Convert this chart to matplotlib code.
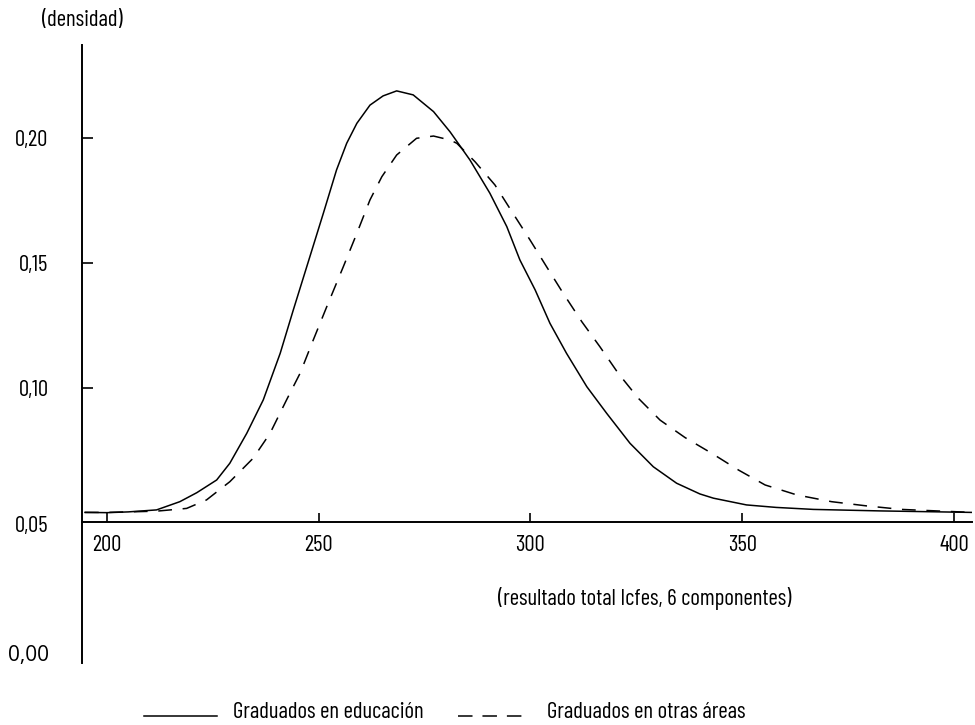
import matplotlib
matplotlib.use("Agg")
import matplotlib.pyplot as plt
from matplotlib import font_manager as fm
from matplotlib.textpath import TextPath
from matplotlib.lines import Line2D

# ---- data ----
x_edu = [194.8, 200, 205, 211.7, 217.2, 221.2, 225.9, 229.0, 233.0, 236.9, 240.9, 244.0,
         247.9, 251.1, 254.2, 256.6, 259.0, 262.1, 265.2, 268.4, 272.3, 277.1, 281.0,
         285.7, 290.4, 294.4, 297.5, 301.1, 304.6, 308.5, 313.3, 318.0, 323.5, 329.0,
         334.5, 340.0, 343.2, 351.0, 358.0, 366.8, 382.5, 404.2]
y_edu = [0.050, 0.0499, 0.0502, 0.051, 0.0543, 0.0579, 0.063, 0.0697, 0.0817, 0.0951,
         0.1138, 0.1312, 0.1525, 0.170, 0.1873, 0.198, 0.206, 0.2133, 0.217, 0.219,
         0.2174, 0.2107, 0.2026, 0.1913, 0.178, 0.1646, 0.1512, 0.1392, 0.1258, 0.1138,
         0.1004, 0.0897, 0.0777, 0.0683, 0.0617, 0.0574, 0.0557, 0.053, 0.052, 0.0512,
         0.0506, 0.050]

x_oth = [194.8, 200, 205, 211.7, 218.8, 223.5, 229.0, 234.5, 238.5, 242.4, 245.6, 248.7,
         251.9, 255.8, 259.0, 262.1, 264.9, 268.4, 273.1, 277.1, 281.0, 282.6, 286.9,
         291.6, 295.6, 299.9, 303.8, 307.7, 312.1, 316.4, 320.7, 325.5, 330.6, 336.5,
         342.8, 349.1, 355.4, 362.9, 371.1, 379.4, 387.6, 395.9, 404.2]
y_oth = [0.050, 0.050, 0.0502, 0.0505, 0.0516, 0.055, 0.0623, 0.0717, 0.0817, 0.0951,
         0.1058, 0.1191, 0.1325, 0.1485, 0.1619, 0.1753, 0.1846, 0.1933, 0.200, 0.2009,
         0.1993, 0.198, 0.1906, 0.1813, 0.1706, 0.1592, 0.1485, 0.1379, 0.1265, 0.1164,
         0.1058, 0.0957, 0.0870, 0.0800, 0.0737, 0.067, 0.061, 0.057, 0.0543, 0.0526,
         0.0512, 0.0506, 0.050]

x_ticks = [200, 250, 300, 350, 400]
x_ticklabels = ["200", "250", "300", "350", "400"]
y_ticks = [0.10, 0.15, 0.20]
y_ticklabels = ["0,10", "0,15", "0,20"]
series_labels = ["Graduados en educación", "Graduados en otras áreas"]
y_label = "(densidad)"
x_label = "(resultado total Icfes, 6 componentes)"

W, H = 975, 725
PX = 100 / 72.0  # pixels per point

# ---- choose a condensed sans whose proportions best match the reference ----
# reference: "Graduados en educación" is ~185 px wide, capitals ~16 px tall
TARGET_W, TARGET_CAP = 185.0, 16.0
cands = []
seen = set()
for e in sorted(fm.fontManager.ttflist, key=lambda f: f.fname):
    if e.fname in seen:
        continue
    if e.style != 'normal' or e.weight not in (400, 'normal', 'regular', 'book'):
        continue
    if any(k in e.name for k in ('Mono', 'Serif', 'CJK', 'Math')):
        continue
    if e.stretch == 'normal' and e.name not in ('Liberation Sans', 'Liberation Sans Narrow'):
        continue
    seen.add(e.fname)
    cands.append(e)

best = None
for e in cands:
    try:
        p = fm.FontProperties(fname=e.fname)
        w1 = TextPath((0, 0), series_labels[0], size=10, prop=p).get_extents().width / 10
        c1 = TextPath((0, 0), "H", size=10, prop=p).get_extents().height / 10
    except Exception:
        continue
    if w1 <= 0 or c1 <= 0:
        continue
    s_w = TARGET_W / (w1 * PX)
    s_c = TARGET_CAP / (c1 * PX)
    score = abs(s_w / s_c - 1)
    if best is None or score < best[0]:
        best = (score, e, s_c)

if best is not None:
    FP = fm.FontProperties(fname=best[1].fname)
    FS = best[2]
else:
    FP = fm.FontProperties(family=['DejaVu Sans'], stretch='condensed')
    FS = 14.5

fig = plt.figure(figsize=(9.75, 7.25), dpi=100)
ax = fig.add_axes([82 / W, 1 - 663 / H, 890 / W, 618 / H])
ax.set_xlim(194.1, 404.25)
ax.set_ylim(-0.01038, 0.2374)

LW = 1.1
l1, = ax.plot(x_edu, y_edu, color='black', lw=LW)
l2, = ax.plot(x_oth, y_oth, color='black', lw=LW, dashes=(9, 7))

for s in ['top', 'right']:
    ax.spines[s].set_visible(False)
ax.spines['left'].set_linewidth(1.4)
ax.spines['bottom'].set_linewidth(1.4)
ax.spines['bottom'].set_position(('data', 0.04635))

ax.set_xticks(x_ticks)
ax.set_xticklabels(x_ticklabels, fontproperties=FP, fontsize=FS)
ax.set_yticks(y_ticks)
ax.set_yticklabels(y_ticklabels, fontproperties=FP, fontsize=FS)
ax.tick_params(axis='x', direction='in', length=6.7, width=1.2, pad=10)
ax.tick_params(axis='y', direction='in', length=8, width=1.2, pad=24)

ax.annotate("0,05", xy=(0, 0.0445), xycoords=('axes fraction', 'data'),
            xytext=(-24, 0), textcoords='offset points', ha='right', va='center',
            fontproperties=FP, fontsize=FS)
ax.annotate("0,00", xy=(0, -0.0072), xycoords=('axes fraction', 'data'),
            xytext=(-24, 0), textcoords='offset points', ha='right', va='center',
            family=['Open Sans', 'DejaVu Sans'], fontsize=15)

fig.text(82 / W, 1 - 20 / H, y_label, ha='center', va='center',
         fontproperties=FP, fontsize=FS)
fig.text(645 / W, 1 - 598 / H, x_label, ha='center', va='center',
         fontproperties=FP, fontsize=FS)

# legend, laid out by hand at the reference positions
ly = 1 - 716 / H
fig.add_artist(Line2D([144 / W, 217 / W], [ly, ly], color='black', lw=LW))
fig.text(233 / W, 1 - 712 / H, series_labels[0], ha='left', va='center',
         fontproperties=FP, fontsize=FS)
fig.add_artist(Line2D([458 / W, 530 / W], [ly, ly], color='black', lw=LW,
                      dashes=(9.5, 6.5)))
fig.text(547 / W, 1 - 712 / H, series_labels[1], ha='left', va='center',
         fontproperties=FP, fontsize=FS)

fig.savefig("out.png", dpi=100)
